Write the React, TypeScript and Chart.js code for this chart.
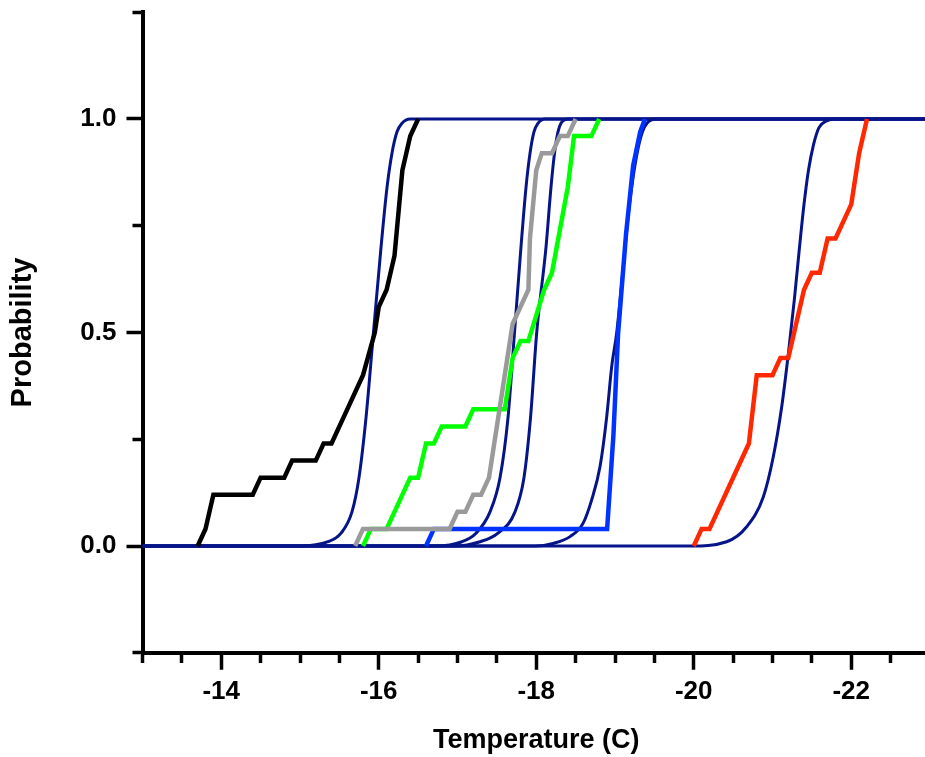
import React, { useEffect, useRef } from 'react';
import { Chart, registerables } from 'chart.js';

Chart.register(...registerables);

const FONT = "'Liberation Sans', Arial, Helvetica, sans-serif";
const NAVY = '#061489';

// Empirical step curves (temperature, cumulative probability)
const blackT = [-13.7, -13.8, -13.9, -14.4, -14.5, -14.8, -14.9, -15.2, -15.3, -15.4, -15.6, -15.8, -15.95, -16.0, -16.1, -16.2, -16.3, -16.4, -16.5];
const blackP = [0, 0.04, 0.12, 0.12, 0.16, 0.16, 0.2, 0.2, 0.24, 0.24, 0.32, 0.4, 0.5, 0.56, 0.6, 0.68, 0.88, 0.96, 1.0];

const grayT = [-15.7, -15.8, -16.9, -17.0, -17.1, -17.2, -17.3, -17.4, -17.5, -17.6, -17.7, -17.9, -17.92, -18.0, -18.07, -18.2, -18.3, -18.4, -18.5];
const grayP = [0, 0.04, 0.04, 0.08, 0.08, 0.12, 0.12, 0.16, 0.28, 0.4, 0.52, 0.6, 0.72, 0.88, 0.92, 0.92, 0.96, 0.96, 1.0];

const greenT = [-15.8, -15.9, -16.1, -16.4, -16.5, -16.6, -16.7, -16.8, -17.1, -17.2, -17.6, -17.7, -17.8, -17.9, -18.1, -18.2, -18.3, -18.4, -18.48, -18.7, -18.8];
const greenP = [0, 0.04, 0.04, 0.16, 0.16, 0.24, 0.24, 0.28, 0.28, 0.32, 0.32, 0.44, 0.48, 0.48, 0.6, 0.64, 0.74, 0.84, 0.96, 0.96, 1.0];

const blueT = [-16.6, -16.7, -18.9, -18.98, -19.04, -19.14, -19.23, -19.32, -19.38];
const blueP = [0, 0.04, 0.04, 0.26, 0.5, 0.73, 0.89, 0.97, 1.0];

const redT = [-20.0, -20.1, -20.2, -20.7, -20.8, -21.0, -21.1, -21.2, -21.4, -21.5, -21.6, -21.7, -21.8, -22.0, -22.1, -22.2];
const redP = [0, 0.04, 0.04, 0.24, 0.4, 0.4, 0.44, 0.44, 0.6, 0.64, 0.64, 0.72, 0.72, 0.8, 0.92, 1.0];

// Fitted curves
const fit1T = [-13, -15.0, -15.356, -15.521, -15.66, -15.749, -15.838, -15.933, -16.029, -16.105, -16.168, -16.232, -16.295, -16.397, -23];
const fit1P = [0, 0, 0.01, 0.03, 0.08, 0.16, 0.3, 0.5, 0.7, 0.84, 0.92, 0.97, 0.99, 1, 1];

const fit2T = [-13, -16.714, -17.057, -17.235, -17.413, -17.54, -17.641, -17.724, -17.806, -17.87, -17.921, -17.971, -18.022, -18.111, -23];
const fit2P = [0, 0, 0.01, 0.03, 0.08, 0.16, 0.3, 0.5, 0.7, 0.84, 0.92, 0.97, 0.99, 1, 1];

const fit3T = [-13, -16.968, -17.286, -17.514, -17.73, -17.844, -17.927, -18.006, -18.124, -18.187, -18.232, -18.276, -18.314, -18.403, -23];
const fit3P = [0, 0, 0.01, 0.03, 0.08, 0.16, 0.3, 0.5, 0.7, 0.84, 0.92, 0.97, 0.99, 1, 1];

const fit4T = [-13, -17.984, -18.213, -18.429, -18.594, -18.704, -18.81, -18.895, -18.958, -19.022, -19.105, -19.171, -19.235, -19.292, -19.349, -19.406, -19.521, -23];
const fit4P = [0, 0, 0.006, 0.022, 0.053, 0.108, 0.186, 0.303, 0.42, 0.5, 0.654, 0.78, 0.87, 0.93, 0.97, 0.99, 1, 1];

const fit5T = [-13, -19.952, -20.418, -20.672, -20.883, -21.01, -21.117, -21.201, -21.279, -21.343, -21.4, -21.457, -21.521, -21.59, -21.679, -21.806, -23];
const fit5P = [0, 0, 0.01, 0.045, 0.115, 0.209, 0.326, 0.45, 0.58, 0.7, 0.8, 0.88, 0.94, 0.98, 0.995, 1, 1];

// Axis ticks
const xMin = -23;
const xMax = -13;
const xStep = 0.5;
const yMin = -0.25;
const yMax = 1.25;
const yStep = 0.25;

const toPts = (t: number[], p: number[]) => t.map((x, i) => ({ x, y: p[i] }));

export default function App() {
  const ref = useRef<HTMLCanvasElement | null>(null);

  useEffect(() => {
    const canvas = ref.current;
    if (!canvas) return;

    const steps = [
      { t: blackT, p: blackP, c: '#000000' },
      { t: grayT, p: grayP, c: '#9a9a9a' },
      { t: greenT, p: greenP, c: '#00ff00' },
      { t: blueT, p: blueP, c: '#0033ff' },
      { t: redT, p: redP, c: '#ff2800' },
    ];
    const fits = [
      { t: fit1T, p: fit1P },
      { t: fit2T, p: fit2P },
      { t: fit3T, p: fit3P },
      { t: fit4T, p: fit4P },
      { t: fit5T, p: fit5P },
    ];

    const datasets: any[] = [
      ...steps.map((s) => ({
        data: toPts(s.t, s.p),
        borderColor: s.c,
        backgroundColor: s.c,
        borderWidth: 4.5,
        pointRadius: 0,
        tension: 0,
        fill: false,
        order: 0,
      })),
      ...fits.map((f) => ({
        data: toPts(f.t, f.p),
        borderColor: NAVY,
        backgroundColor: NAVY,
        borderWidth: 3,
        pointRadius: 0,
        cubicInterpolationMode: 'monotone',
        fill: false,
        order: 1,
      })),
    ];

    const isMajorX = (v: number) => Math.abs(v / 2 - Math.round(v / 2)) < 1e-6;
    const isMajorY = (v: number) => Math.abs(v * 2 - Math.round(v * 2)) < 1e-6;

    const tickFont = { family: FONT, size: 26, weight: 'bold' as const };

    const chart = new Chart(canvas, {
      type: 'line',
      data: { datasets },
      options: {
        animation: false,
        responsive: false,
        maintainAspectRatio: false,
        devicePixelRatio: 1,
        events: [],
        layout: { padding: { top: 12.25, right: 1, bottom: 0, left: 0 } },
        plugins: {
          legend: { display: false },
          tooltip: { enabled: false },
        },
        scales: {
          x: {
            type: 'linear',
            reverse: true,
            min: xMin,
            max: xMax,
            border: { display: true, color: '#000', width: 4 },
            grid: {
              drawOnChartArea: false,
              drawTicks: true,
              tickLength: 17,
              tickWidth: 3.5,
              tickColor: '#000',
              tickBorderDash: (ctx: any) =>
                ctx.tick && !isMajorX(ctx.tick.value) ? [8, 100] : [],
            } as any,
            ticks: {
              stepSize: xStep,
              autoSkip: false,
              includeBounds: false,
              maxRotation: 0,
              minRotation: 0,
              padding: 6,
              color: '#000',
              font: tickFont,
              callback: (v: any) => (isMajorX(Number(v)) ? String(Math.round(Number(v))) : ''),
            },
            title: {
              display: true,
              text: 'Temperature (C)',
              color: '#000',
              font: { family: FONT, size: 27, weight: 'bold' },
              padding: { top: 0, bottom: 0 },
            },
            afterFit: (s: any) => {
              s.height = 104.25;
              s.paddingLeft = 0;
              s.paddingRight = 0;
            },
          },
          y: {
            type: 'linear',
            min: yMin,
            max: yMax,
            border: { display: true, color: '#000', width: 4 },
            grid: {
              drawOnChartArea: false,
              drawTicks: true,
              tickLength: 16,
              tickWidth: 3.5,
              tickColor: '#000',
              tickBorderDash: (ctx: any) =>
                ctx.tick && !isMajorY(ctx.tick.value) ? [0, 6, 30, 0] : [],
            } as any,
            ticks: {
              stepSize: yStep,
              autoSkip: false,
              includeBounds: false,
              padding: 10,
              color: '#000',
              font: tickFont,
              callback: (v: any) => (isMajorY(Number(v)) ? Number(v).toFixed(1) : ''),
            },
            title: {
              display: true,
              text: 'Probability',
              color: '#000',
              font: { family: FONT, size: 29, weight: 'bold' },
              padding: { top: 6, bottom: 0 },
            },
            afterFit: (s: any) => {
              s.width = 142.5;
              s.paddingTop = 0;
              s.paddingBottom = 0;
            },
          },
        },
      },
    });

    return () => chart.destroy();
  }, []);

  return (
    <div
      style={{
        position: 'absolute',
        left: 0,
        top: 0,
        width: 925,
        height: 757,
        overflow: 'hidden',
        background: '#ffffff',
      }}
    >
      <canvas ref={ref} width={931} height={757} style={{ display: 'block' }} />
    </div>
  );
}
